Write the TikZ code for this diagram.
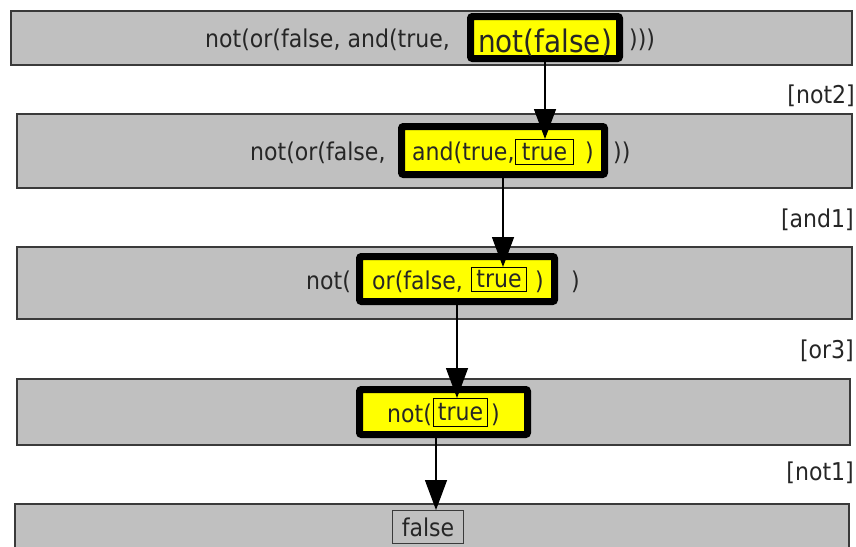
\documentclass[tikz,border=0pt]{standalone}
\usepackage{fontspec}
\setmainfont{DejaVu Sans}[FakeStretch=0.9]
\usetikzlibrary{arrows.meta}
\definecolor{termgray}{HTML}{C0C0C0}
\definecolor{redex}{HTML}{FFFF00}
\definecolor{ink}{HTML}{262626}
\definecolor{frame}{HTML}{3A3A3A}
\begin{document}
\begin{tikzpicture}[x=1pt,y=-1pt,
  term/.style={draw=frame, line width=1.6pt, fill=termgray, inner sep=0pt},
  redexbox/.style={draw=black, line width=7pt, fill=redex, rounded corners=2pt, inner sep=0pt},
  txt/.style={anchor=base west, inner sep=0pt, text=ink, font=\fontsize{24.5}{28}\selectfont},
  bigtxt/.style={anchor=base, inner sep=0pt, text=ink, font=\fontsize{31}{35}\selectfont},
  argbox/.style={draw=black, line width=1.2pt, inner sep=0pt, text=ink, font=\fontsize{24.5}{28}\selectfont},
  valbox/.style={argbox, draw=frame, fill=termgray},
  rulename/.style={anchor=base east, inner sep=0pt, text=ink, font=\fontsize{24.5}{28}\selectfont},
  flow/.style={draw=black, line width=1.4pt, -{Triangle[width=22pt,length=30pt]}}
]
\useasboundingbox (0,0) rectangle (856,546);
\clip (0,0) rectangle (856,546);

% term rows
\node[term, minimum width=841.4pt, minimum height=54.4pt] (t1) at (431.5,38) {};
\node[term, minimum width=835.4pt, minimum height=74.4pt] (t2) at (434.5,151) {};
\node[term, minimum width=835.4pt, minimum height=72.4pt] (t3) at (434.5,283) {};
\node[term, minimum width=833.4pt, minimum height=66.4pt] (t4) at (433.5,412) {};
\node[term, minimum width=834.4pt, minimum height=55.4pt] (t5) at (432,531.5) {};

% redexes
\node[redexbox, minimum width=149pt, minimum height=42pt] (r1) at (545,37.5) {};
\node[redexbox, minimum width=203pt, minimum height=48pt] (r2) at (503,150.5) {};
\node[redexbox, minimum width=195pt, minimum height=45pt] (r3) at (457,279) {};
\node[redexbox, minimum width=168pt, minimum height=45pt] (r4) at (443.5,412) {};

% row 1
\node[txt] (l1a) at (205,47) {not(or(false, and(true,};
\node[bigtxt] (l1b) at (545,52) {not(false)};
\node[txt] (l1c) at (629,47) {)))};

% row 2
\node[txt] (l2a) at (250,160) {not(or(false,};
\node[txt] (l2b) at (412,160) {and(true,};
\node[argbox, minimum width=57.8pt, minimum height=24.8pt] (a2) at (544.5,152) {true};
\node[txt] (l2c) at (585,160) {)};
\node[txt] (l2d) at (613,160) {))};

% row 3
\node[txt] (l3a) at (306,289.5) {not(};
\node[txt] (l3b) at (372,289.5) {or(false,};
\node[argbox, minimum width=54.8pt, minimum height=23.8pt] (a3) at (499,279.5) {true};
\node[txt] (l3c) at (535,289.5) {)};
\node[txt] (l3d) at (571,289.5) {)};

% row 4
\node[txt] (l4a) at (387,422.5) {not(};
\node[argbox, minimum width=53.8pt, minimum height=27.8pt] (a4) at (460.5,412.5) {true};
\node[txt] (l4b) at (491,422.5) {)};

% row 5
\node[valbox, minimum width=70.8pt, minimum height=32.8pt] (f5) at (428,527) {false};

% rule names
\node[rulename] (n1) at (855,103) {[not2]};
\node[rulename] (n2) at (854,227) {[and1]};
\node[rulename] (n3) at (854,358) {[or3]};
\node[rulename] (n4) at (854,480) {[not1]};

% reduction steps
\coordinate (drop) at (436,0);
\draw[flow] (r1.south) -- (r1.south |- a2.north);
\draw[flow] (r2.south) -- (r2.south |- a3.north);
\draw[flow] (r3.south) -- (r3.south |- a4.north);
\draw[flow] (r4.south -| drop) -- (f5.north -| drop);
\end{tikzpicture}
\end{document}
